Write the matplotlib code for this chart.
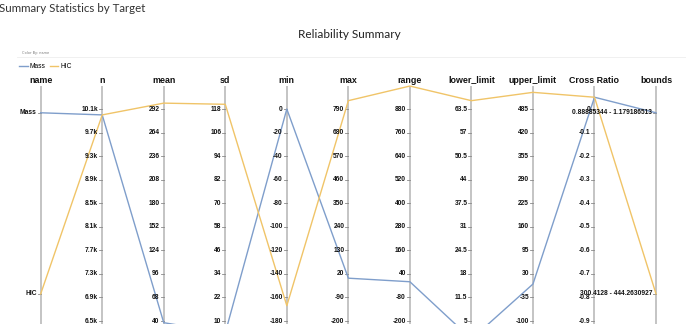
import matplotlib
matplotlib.use("Agg")
import matplotlib.pyplot as plt
import numpy as np

# --- data ---
dims = ["name", "n", "mean", "sd", "min", "max", "range",
        "lower_limit", "upper_limit", "Cross Ratio", "bounds"]

# tick values for each numeric axis (bottom -> top)
n_ticks = [6500, 6900, 7300, 7700, 8100, 8500, 8900, 9300, 9700, 10100]
n_labels = ["6.5k", "6.9k", "7.3k", "7.7k", "8.1k", "8.5k", "8.9k", "9.3k", "9.7k", "10.1k"]
mean_ticks = [40, 68, 96, 124, 152, 180, 208, 236, 264, 292]
sd_ticks = [10, 22, 34, 46, 58, 70, 82, 94, 106, 118]
min_ticks = [-180, -160, -140, -120, -100, -80, -60, -40, -20, 0]
max_ticks = [-200, -90, 20, 130, 240, 350, 460, 570, 680, 790]
range_ticks = [-200, -80, 40, 160, 280, 400, 520, 640, 760, 880]
lower_ticks = [5, 11.5, 18, 24.5, 31, 37.5, 44, 50.5, 57, 63.5]
upper_ticks = [-100, -35, 30, 95, 160, 225, 290, 355, 420, 485]
cross_ticks = [-0.9, -0.8, -0.7, -0.6, -0.5, -0.4, -0.3, -0.2, -0.1, 0]

name_cats = ["HIC", "Mass"]
bounds_cats = ["300.4128 - 444.2630927", "0.88885344 - 1.179186513"]

series = ["Mass", "HIC"]
mass_vals = [10000, 38, 4, 0, 0, 0, 0, 2, 0.05]
hic_vals = [10000, 299, 120.4, -167, 829, 997, 65.8, 531, 0.05]
mass_bounds = "0.88885344 - 1.179186513"
hic_bounds = "300.4128 - 444.2630927"

colors = {"Mass": "#7f9ecb", "HIC": "#f0c468"}

numeric_ticks = [n_ticks, mean_ticks, sd_ticks, min_ticks, max_ticks, range_ticks,
                 lower_ticks, upper_ticks, cross_ticks]

tick_labels = [n_labels] + [["%g" % t for t in tk] for tk in numeric_ticks[1:]]

# categorical axes: positions in tick units
cat_pos = [1.15, 8.84]

def scale(v, ticks):
    return (v - ticks[0]) / (ticks[-1] - ticks[0]) * 9

W, H = 686, 324
fig = plt.figure(figsize=(W / 100, H / 100), dpi=100)
ax = fig.add_axes([0, 0, 1, (H - 86) / H])
ax.set_xlim(-0.661, 10.487)
ax.set_ylim(-0.127, 9.977)
ax.axis("off")

axis_color = "#c4c4c4"
dx = (10.487 + 0.661) / W  # data units per pixel in x

for i, d in enumerate(dims):
    ax.plot([i, i], [-0.3, 9.934], color=axis_color, lw=1.4, zorder=1, clip_on=False)
    ax.text(i, 10.23, d, ha="center", va="center", fontsize=6.4, fontweight="bold",
            family="Liberation Sans", color="#111111", clip_on=False)

# numeric axis ticks
for j, tk in enumerate(numeric_ticks):
    i = j + 1
    for k, t in enumerate(tk):
        y = scale(t, tk)
        ax.plot([i - 3 * dx, i], [y, y], color="#888888", lw=0.6, zorder=1)
        ax.text(i - 4 * dx, y, tick_labels[j][k], ha="right", va="center",
                fontsize=4.8, fontweight="bold", family="Liberation Sans", color="#111111")

# categorical axes
for i, cats in [(0, name_cats), (10, bounds_cats)]:
    for c, y in zip(cats, cat_pos):
        ax.plot([i - 3 * dx, i], [y, y], color="#888888", lw=0.6, zorder=1)
        ax.text(i - 4 * dx, y, c, ha="right", va="center",
                fontsize=4.8, fontweight="bold", family="Liberation Sans", color="#111111")

# series lines
handles = []
for s, vals, b in [("Mass", mass_vals, mass_bounds), ("HIC", hic_vals, hic_bounds)]:
    ys = [cat_pos[name_cats.index(s)]]
    ys += [scale(v, tk) for v, tk in zip(vals, numeric_ticks)]
    ys += [cat_pos[bounds_cats.index(b)]]
    ln, = ax.plot(range(len(dims)), ys, color=colors[s], lw=1.0, zorder=2,
                  clip_on=False, label=s)
    handles.append(ln)

# titles
fig.text(-0.002, 1 - 9 / H, "Summary Statistics by Target", ha="left", va="center",
         fontsize=8.3, family="Lato", color="#333333")
fig.text(349 / W, 1 - 34 / H, "Reliability Summary", ha="center", va="center",
         fontsize=8.5, family="Lato", color="#222222")
fig.text(22 / W, 1 - 53 / H, "Color By: name", ha="left", va="center",
         fontsize=2.5, color="#777777")
fig.add_artist(plt.Line2D([17 / W, 1], [1 - 57 / H, 1 - 57 / H], color="#eeeeee", lw=0.6))

fig.legend(handles=handles, labels=series, loc="center left",
           bbox_to_anchor=(19 / W, 1 - 67 / H), ncol=2, frameon=False,
           handlelength=1.3, handletextpad=0.3, columnspacing=0.6,
           borderpad=0, borderaxespad=0, prop={"family": "Liberation Sans", "size": 4.8})

fig.savefig("out.png", dpi=100)
